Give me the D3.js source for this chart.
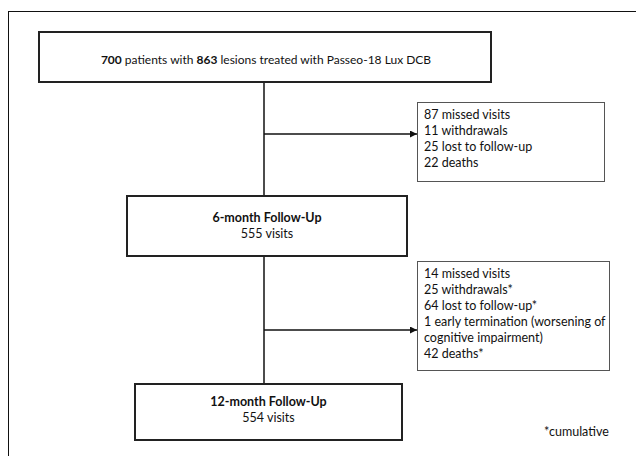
<!DOCTYPE html>
<html>
<head>
<meta charset="utf-8">
<script src="https://cdn.jsdelivr.net/npm/d3@7"></script>
<style>
  body { margin: 0; background: #fff; }
  text { font-family: Lato, "Open Sans", sans-serif; fill: #111; }
</style>
</head>
<body>
<div id="chart"></div>
<script>
// flow values
const patients = 700
const lesions = 863
const device = "Passeo-18 Lux DCB"
const stages = ["6-month Follow-Up", "12-month Follow-Up"]
const visits = [555, 554]
const exclusions6 = ["87 missed visits", "11 withdrawals", "25 lost to follow-up", "22 deaths"]
const exclusions12 = ["14 missed visits", "25 withdrawals*", "64 lost to follow-up*",
                      "1 early termination (worsening of", "cognitive impairment)", "42 deaths*"]
const footnote = "*cumulative"

const width = 636
const height = 456

const svg = d3.select("#chart").append("svg")
  .attr("width", width)
  .attr("height", height)

svg.append("defs").append("marker")
  .attr("id", "arrow")
  .attr("viewBox", "0 0 10 10")
  .attr("refX", 10).attr("refY", 5)
  .attr("markerWidth", 7).attr("markerHeight", 7)
  .attr("markerUnits", "userSpaceOnUse")
  .attr("orient", "auto")
  .append("path").attr("d", "M0,0L10,5L0,10Z").attr("fill", "#111")

// outer frame (runs off the picture on right/bottom)
svg.append("rect")
  .attr("x", 8.5).attr("y", 11.5)
  .attr("width", 640).attr("height", 460)
  .attr("fill", "none").attr("stroke", "#111").attr("stroke-width", 1)

// main column boxes
const mainBoxes = [
  {x: 39, y: 32, w: 452, h: 50},
  {x: 127, y: 196, w: 280, h: 60},
  {x: 135, y: 384, w: 267, h: 56}
]
const sideBoxes = [
  {x: 417, y: 102, w: 187, h: 79, lines: exclusions6, arrowY: 134},
  {x: 417, y: 261, w: 192, h: 109, lines: exclusions12, arrowY: 330}
]
const spineX = 264

// spine
svg.append("line")
  .attr("x1", spineX).attr("x2", spineX)
  .attr("y1", mainBoxes[0].y + mainBoxes[0].h).attr("y2", mainBoxes[2].y)
  .attr("stroke", "#111").attr("stroke-width", 1.5)

svg.selectAll("rect.main")
  .data(mainBoxes)
  .join("rect")
  .attr("class", "main")
  .attr("x", d => d.x).attr("y", d => d.y)
  .attr("width", d => d.w).attr("height", d => d.h)
  .attr("fill", "#fff").attr("stroke", "#222").attr("stroke-width", 2)

// top box text
const t0 = svg.append("text")
  .attr("x", 266)
  .attr("y", 64)
  .attr("text-anchor", "middle")
  .attr("font-size", 12)
t0.append("tspan").attr("font-weight", "bold").text(patients)
t0.append("tspan").text(" patients with ")
t0.append("tspan").attr("font-weight", "bold").text(lesions)
t0.append("tspan").text(" lesions treated with " + device)

// follow-up boxes
stages.forEach((s, i) => {
  const b = mainBoxes[i + 1]
  const cx = b.x + b.w / 2
  const cy = b.y + b.h / 2
  svg.append("text").attr("x", cx).attr("y", cy - 4 - i * 2)
    .attr("text-anchor", "middle").attr("font-size", 12.5).attr("font-weight", "bold")
    .text(s)
  svg.append("text").attr("x", cx).attr("y", cy + 12 - i * 2)
    .attr("text-anchor", "middle").attr("font-size", 12.5)
    .text(visits[i] + " visits")
})

// side exclusion boxes
sideBoxes.forEach(b => {
  svg.append("line")
    .attr("x1", spineX).attr("x2", b.x)
    .attr("y1", b.arrowY).attr("y2", b.arrowY)
    .attr("stroke", "#111").attr("stroke-width", 1.5)
    .attr("marker-end", "url(#arrow)")
  svg.append("rect")
    .attr("x", b.x + 0.5).attr("y", b.y + 0.5)
    .attr("width", b.w).attr("height", b.h)
    .attr("fill", "#fff").attr("stroke", "#555").attr("stroke-width", 1)
  const lineY = d3.scaleLinear().domain([0, 1]).range([b.y + 17, b.y + 17 + 15.9])
  svg.selectAll(null)
    .data(b.lines)
    .join("text")
    .attr("x", b.x + 7)
    .attr("y", (d, i) => lineY(i))
    .attr("font-size", 12.5)
    .text(d => d)
})

svg.append("text")
  .attr("x", 544).attr("y", 436)
  .attr("font-size", 12.5)
  .text(footnote)
</script>
</body>
</html>
